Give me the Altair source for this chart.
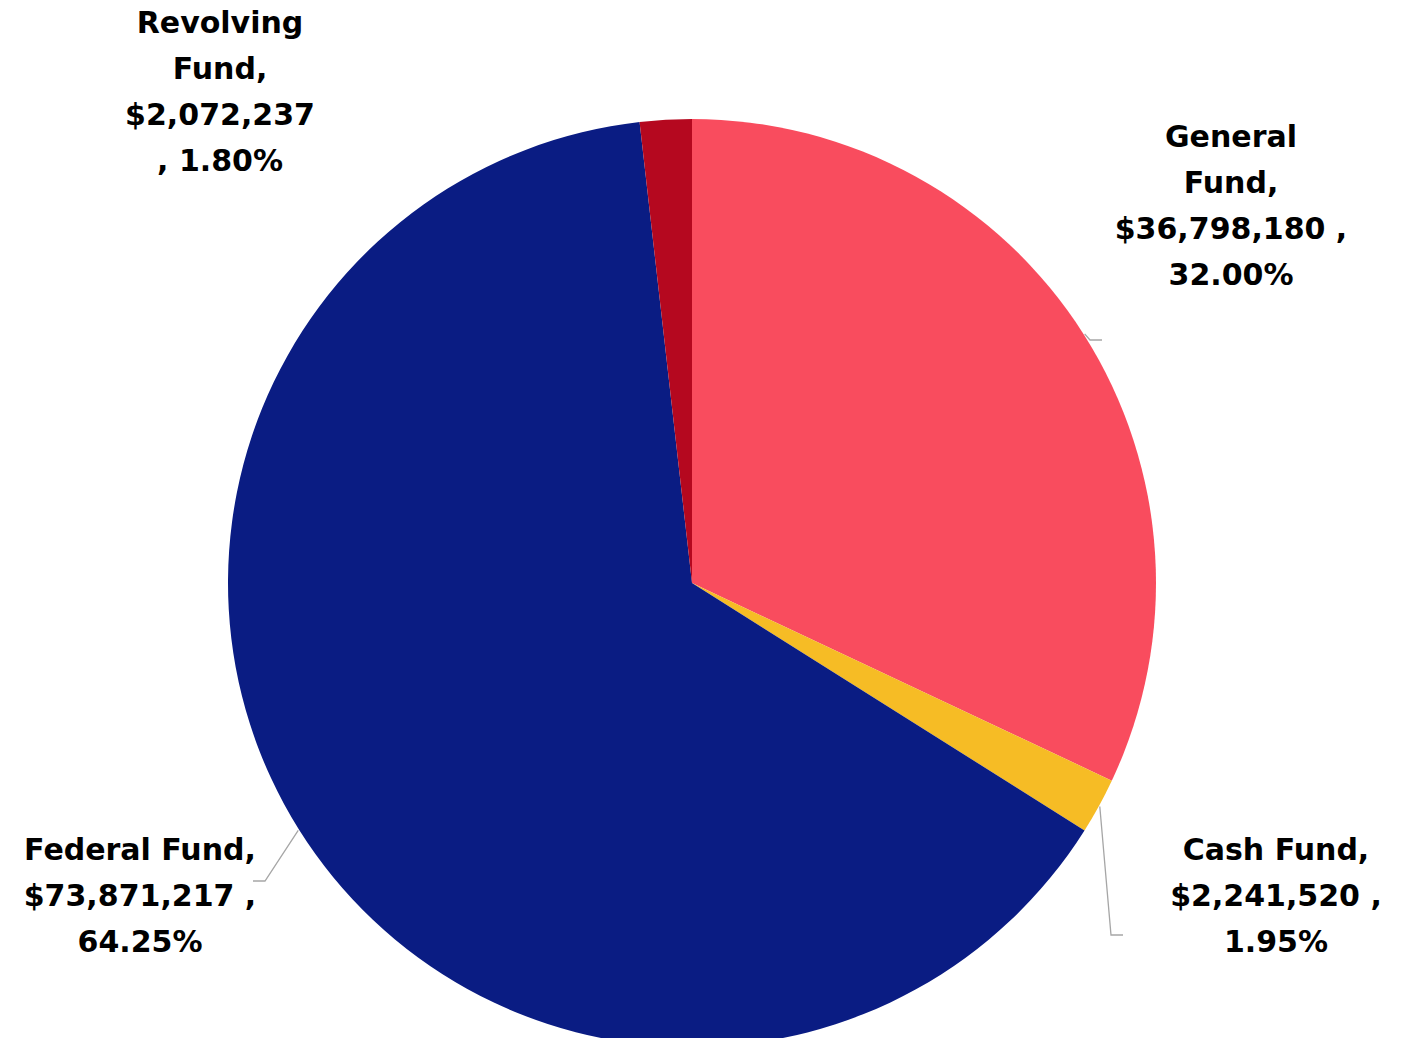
import math
import altair as alt
import pandas as pd

# ---- data ----
funds = ["General Fund", "Cash Fund", "Federal Fund", "Revolving Fund"]
amounts = [36798180, 2241520, 73871217, 2072237]
label_lines = [
    ["General", "Fund,", "$36,798,180 ,", "32.00%"],
    ["Cash Fund,", "$2,241,520 ,", "1.95%"],
    ["Federal Fund,", "$73,871,217 ,", "64.25%"],
    ["Revolving", "Fund,", "$2,072,237", ", 1.80%"],
]
colors = ["#F94C5E", "#F6BC25", "#0A1C83", "#B5081F"]

# ---- layout (pixels inside the plot area) ----
W, H = 1390, 1030
CX, CY = 684, 575
R = 464
# position of the first line of each label
label_xy = [(1223, 130), (1268, 843), (132, 843), (212, 16)]
leader_elbows = [
    [(1082, 332), (1094, 332)],
    [(1103, 927), (1115, 927)],
    [(257, 873), (245, 873)],
    [],
]

total = sum(amounts)
df = pd.DataFrame({"fund": funds, "amount": amounts, "idx": range(len(funds))})

# leader lines start at the slice edge, at its mid-angle
rows = []
cum = 0
for i, (f, a) in enumerate(zip(funds, amounts)):
    mid = (cum + a / 2) / total * 2 * math.pi
    cum += a
    if not leader_elbows[i]:
        continue
    sx = CX + (R + 1) * math.sin(mid)
    sy = CY - (R + 1) * math.cos(mid)
    pts = [(sx, sy)] + leader_elbows[i]
    for k, (px, py) in enumerate(pts):
        rows.append({"fund": f, "k": k, "x": px, "y": py})
lead_df = pd.DataFrame(rows)

lab_df = pd.DataFrame({
    "fund": funds,
    "text": ["\n".join(l) for l in label_lines],
    "x": [p[0] for p in label_xy],
    "y": [p[1] for p in label_xy],
})

glow = alt.layer(*[
    alt.Chart(pd.DataFrame({"v": [1]})).mark_arc(
        outerRadius=R + r, color="#000000", opacity=op
    ).encode(theta=alt.Theta("v:Q"), x=alt.value(CX), y=alt.value(CY))
    for r, op in [(7, 0.03), (5, 0.04), (3, 0.05), (1, 0.08)]
])

pie = alt.Chart(df).mark_arc(outerRadius=R).encode(
    theta=alt.Theta("amount:Q", stack=True),
    color=alt.Color("fund:N", scale=alt.Scale(domain=funds, range=colors), legend=None),
    order=alt.Order("idx:Q"),
    x=alt.value(CX),
    y=alt.value(CY),
)

leaders = alt.Chart(lead_df).mark_line(color="#A6A6A6", strokeWidth=1.3).encode(
    x=alt.X("x:Q", scale=None),
    y=alt.Y("y:Q", scale=None),
    detail="fund:N",
    order="k:Q",
)

labels = alt.Chart(lab_df).mark_text(
    font="DejaVu Sans", fontWeight="bold", fontSize=30, color="#000000",
    lineBreak="\n", lineHeight=46, align="center", baseline="middle",
).encode(
    x=alt.X("x:Q", scale=None),
    y=alt.Y("y:Q", scale=None),
    text="text:N",
)

chart = alt.layer(glow, pie, leaders, labels).properties(
    width=W, height=H, padding=0, background="#FFFFFF",
    autosize=alt.AutoSizeParams(type="none"),
).configure_view(stroke=None, strokeWidth=0)

chart.save("out.html", embed_options={"renderer": "svg", "actions": False})
